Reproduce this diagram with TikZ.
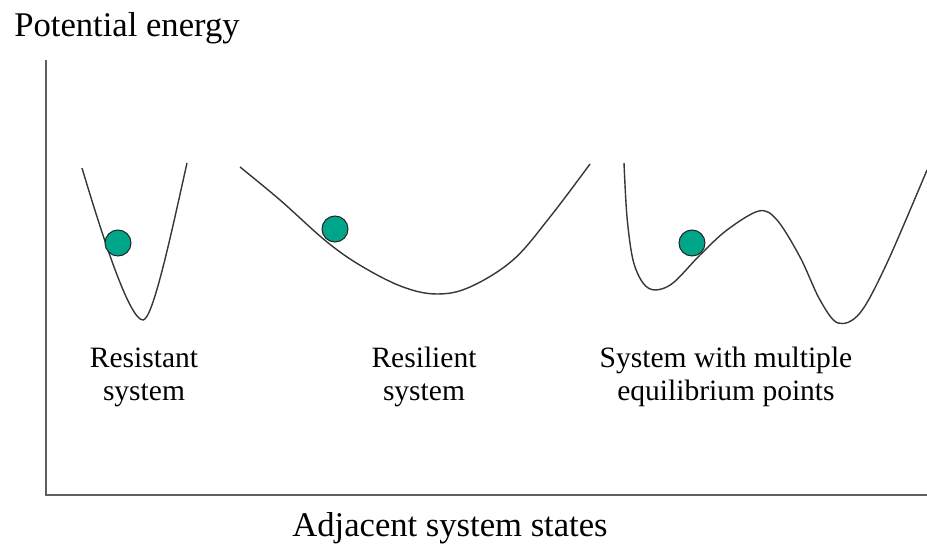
\documentclass[tikz,border=0pt]{standalone}
\usepackage{fontspec}
\setmainfont{Liberation Serif}
\usepackage{tikz}
\definecolor{ballgreen}{RGB}{0,166,138}
\definecolor{axisgray}{RGB}{95,95,95}
\definecolor{curvegray}{RGB}{55,55,55}
\def\ball(#1,#2){\draw[ball] (#1,#2) circle (0.26cm);}

\begin{document}
\begin{tikzpicture}[x=0.02cm, y=-0.02cm,
	axis/.style={line width=1.4pt, color=axisgray},
	curve/.style={line width=0.8pt, color=curvegray},
	ball/.style={line width=0.6pt, draw=black!85, fill=ballgreen},
	lbl/.style={font=\fontsize{16.8}{19}\selectfont, align=center, anchor=base, inner sep=0pt},
	ttl/.style={font=\fontsize{19.7}{22}\selectfont, inner sep=0pt}]
		%%%%% START %%%%%
		\useasboundingbox (0, 0) rectangle (927, 546);
		
		\node[ttl, anchor=base west] (potential) at (14, 37) {Potential energy};
		\node[ttl, anchor=base] (states) at (450, 537) {Adjacent system states};
		
		\draw[axis] (46, 60) -- (46, 495) -- (927, 495);
		
		% resistant
		\draw[curve] (82, 168) .. controls (105, 245) and (130, 320) .. (143, 320)
			.. controls (153, 320) and (172, 230) .. (187, 163);
		\ball(118, 243)
		
		% resilient
		\draw[curve] plot[smooth, tension=0.6] coordinates {(240, 167) (280, 200) (327, 242) (363, 267) (403, 287) (437, 294) (470, 287) (513, 260) (550, 217) (590, 164)};
		\ball(335, 229)
		
		% multiple equilibria
		\draw[curve] plot[smooth, tension=0.55] coordinates {(624, 163) (627, 217) (633, 260) (643, 283) (655, 290) (673, 283) (700, 255) (727, 230) (759, 211) (777, 220) (800, 257) (820, 300) (838, 323) (860, 313) (887, 263) (927, 170)};
		\ball(692, 243)
		
		\node[lbl] (resistant) at (144, 401) {Resistant\\system};
		\node[lbl] (resilient) at (424, 401) {Resilient\\system};
		\node[lbl] (multiple) at (726, 401) {System with multiple\\equilibrium points};
		
		%%%%% END %%%%%
	\end{tikzpicture}
\end{document}
